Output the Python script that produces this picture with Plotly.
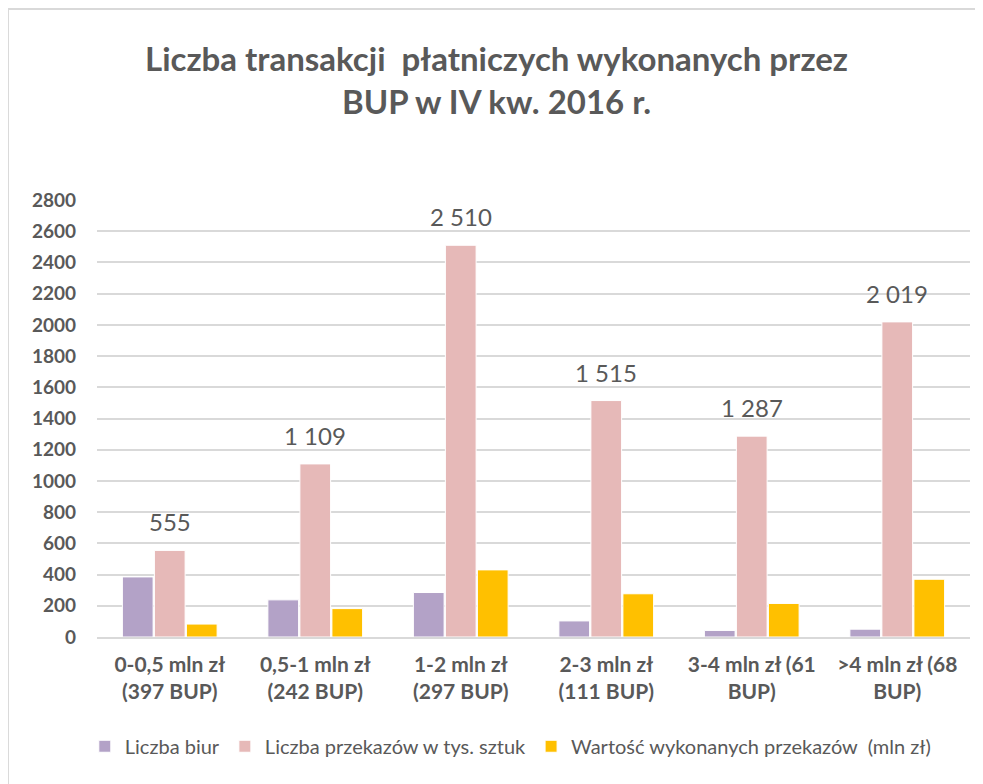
import plotly.graph_objects as go

categories = ["0-0,5 mln zł<br>(397 BUP)", "0,5-1 mln zł<br>(242 BUP)", "1-2 mln zł<br>(297 BUP)",
              "2-3 mln zł<br>(111 BUP)", "3-4 mln zł (61<br>BUP)", ">4 mln zł (68<br>BUP)"]
liczba_biur = [385, 238, 285, 103, 42, 50]
liczba_przekazow = [555, 1109, 2510, 1515, 1287, 2019]
wartosc_przekazow = [83, 182, 430, 277, 215, 370]
series_names = ["Liczba biur", "Liczba przekazów w tys. sztuk", "Wartość wykonanych przekazów  (mln zł)"]
colors = ["#B3A2C7", "#E6B9B8", "#FFC000"]
tick_vals = list(range(0, 2801, 200))

GRAY = "#595959"
FONT = "Lato"

fig = go.Figure()
for name, vals, col in zip(series_names, [liczba_biur, liczba_przekazow, wartosc_przekazow], colors):
    fig.add_trace(go.Bar(x=categories, y=vals, name=name,
                         marker=dict(color=col, line=dict(color="white", width=1))))

def fmt(v):
    return f"{v:,}".replace(",", " ")

for c, v in zip(categories, liczba_przekazow):
    fig.add_annotation(x=c, y=v, text=fmt(v), showarrow=False, yanchor="bottom",
                       yshift=12, font=dict(family=FONT, size=24, color=GRAY))

fig.add_annotation(xref="paper", yref="paper", x=0.458, y=1.275,
                   text="Liczba transakcji  płatniczych wykonanych przez<br>BUP w IV kw. 2016 r.",
                   showarrow=False, xanchor="center", yanchor="middle",
                   font=dict(family=FONT, size=33, color=GRAY, weight="bold"))

fig.add_shape(type="rect", xref="paper", yref="paper", x0=-0.102, x1=1.1, y0=-0.4, y1=1.437,
              line=dict(color="#D9D9D9", width=2), fillcolor="rgba(0,0,0,0)", layer="below")

fig.update_layout(
    width=975, height=776,
    margin=dict(l=89, r=13, t=192, b=147),
    paper_bgcolor="white", plot_bgcolor="white",
    barmode="group", bargap=0.34, bargroupgap=0.04,
    showlegend=True,
    legend=dict(orientation="h", x=0.474, y=-0.25, xanchor="center", yanchor="middle",
                font=dict(family=FONT, size=20, color=GRAY), itemwidth=30,
                tracegroupgap=0),
    font=dict(family=FONT, color=GRAY),
)
fig.update_yaxes(range=[0, 2800], tickvals=tick_vals, showgrid=True, gridcolor="#D9D9D9",
                 gridwidth=1.5, zeroline=False, showline=False, ticks="",
                 tickfont=dict(family=FONT, size=19, color=GRAY, weight="bold"), ticklabelstandoff=20)
fig.update_xaxes(showline=True, linecolor="#D9D9D9", linewidth=1.5, ticks="",
                 tickfont=dict(family=FONT, size=21, color=GRAY, weight="bold"), ticklabelstandoff=8)

fig.write_html("out.html")
